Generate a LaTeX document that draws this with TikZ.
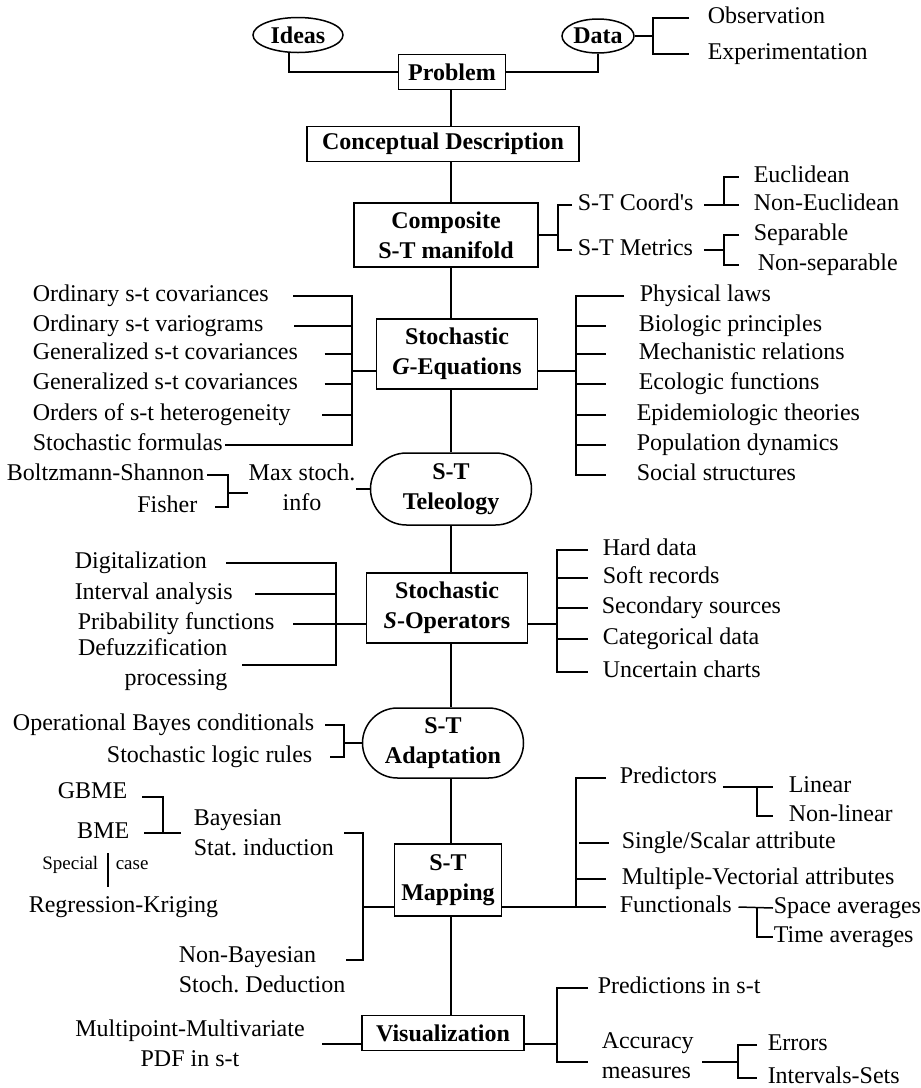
\documentclass[tikz,border=0pt]{standalone}
\usepackage{fontspec}
\setmainfont{Liberation Serif}
\usetikzlibrary{shapes.geometric,shapes.misc}
\tikzset{
  stbox/.style={draw, align=center, inner sep=0pt, font=\fontsize{24}{30}\selectfont\bfseries},
  stoval/.style={stbox, ellipse},
  stpill/.style={stbox, rounded rectangle},
  leaf/.style={anchor=west, inner sep=0pt, text height=17pt, text depth=6pt, font=\fontsize{24}{30}\selectfont},
  rleaf/.style={leaf, anchor=east},
  multi/.style={inner sep=0pt, font=\fontsize{24}{30}\selectfont},
}

\begin{document}
\begin{tikzpicture}[x=1pt, y=-1pt, line width=1.5pt]
\useasboundingbox (0,0) rectangle (921,1088);

% Main chain
\node[stbox, minimum width=107pt, minimum height=35pt] (prob) at (452,72) {Problem};
\node[stbox, minimum width=272pt, minimum height=35pt] (concept) at (443,144) {Conceptual Description};
\node[stbox, minimum width=184pt, minimum height=64pt] (manif) at (446,235) {Composite\\S-T manifold};
\node[stbox, minimum width=161pt, minimum height=70pt] (geq) at (457,354) {Stochastic\\\textit{G}-Equations};
\node[stpill, minimum width=161pt, minimum height=72pt] (telos) at (451,489) {S-T\\Teleology};
\node[stbox, minimum width=161pt, minimum height=70pt] (sop) at (447,608) {Stochastic\\\textit{S}-Operators};
\node[stpill, minimum width=161pt, minimum height=70pt] (adapt) at (443,743) {S-T\\Adaptation};
\node[stbox, minimum width=107pt, minimum height=72pt] (mapping) at (448,880) {S-T\\Mapping};
\node[stbox, minimum width=162pt, minimum height=35pt] (visual) at (443,1033) {Visualization};

\coordinate (spine) at (451,0);
\draw (prob.south -| spine) -- (concept.north -| spine);
\draw (concept.south -| spine) -- (manif.north -| spine);
\draw (manif.south -| spine) -- (geq.north -| spine);
\draw (geq.south -| spine) -- (telos.north -| spine);
\draw (telos.south -| spine) -- (sop.north -| spine);
\draw (sop.south -| spine) -- (adapt.north -| spine);
\draw (adapt.south -| spine) -- (mapping.north -| spine);
\draw (mapping.south -| spine) -- (visual.north -| spine);

% Ideas and data
\node[stoval, minimum width=90pt, minimum height=35pt] (ideas) at (298,35) {Ideas};
\node[stoval, minimum width=72pt, minimum height=34pt] (data) at (598,36) {Data};
\node[leaf] (obs) at (707,18) {Observation};
\node[leaf] (exper) at (707,54) {Experimentation};
\coordinate (dbr) at (653,36);
\draw ([xshift=-9pt]ideas.south) |- (prob.west);
\draw (data.south) |- (prob.east);
\draw (data) -- (dbr);
\draw ([xshift=-18pt]obs.west) -| (dbr) |- ([xshift=-18pt]exper.west);

% Manifold branches
\node[leaf] (coord) at (577,205) {S-T Coord\textquotesingle s};
\node[leaf] (metr) at (577,250) {S-T Metrics};
\node[leaf] (eucl) at (753,177) {Euclidean};
\node[leaf] (noneu) at (753,205) {Non-Euclidean};
\node[leaf] (sep) at (753,235) {Separable};
\node[leaf] (nonsep) at (757,265) {Non-separable};
\coordinate (mbr) at (558,235);
\coordinate (cbr) at (724,205);
\coordinate (tbr) at (724,250);
\draw (manif) -- (mbr);
\draw ([xshift=-5pt]coord.west) -| (mbr) |- ([xshift=-5pt]metr.west);
\draw ([xshift=10pt]coord.east) -- ([xshift=-14pt]noneu.west);
\draw (cbr) |- ([xshift=-14pt]eucl.west);
\draw ([xshift=10pt]metr.east) -- (tbr);
\draw ([xshift=-14pt]sep.west) -| (tbr) |- ([xshift=-18pt]nonsep.west);

% G-Equations, left
\node[leaf] (ord1) at (32,296) {Ordinary s-t covariances};
\node[leaf] (ord2) at (32,326) {Ordinary s-t variograms};
\node[leaf] (gen1) at (32,354) {Generalized s-t covariances};
\node[leaf] (gen2) at (32,384) {Generalized s-t covariances};
\node[leaf] (orders) at (32,415) {Orders of s-t heterogeneity};
\node[leaf] (stochf) at (32,445) {Stochastic formulas};
\coordinate (gl) at (352,371);
\draw (gl -| geq.west) -- (gl);
\draw ([xshift=24pt]ord1.east) -| (gl) |- ([xshift=2pt]stochf.east);
\draw ([xshift=30pt]ord2.east) -- (ord2 -| gl);
\draw ([xshift=26pt]gen1.east) -- (gen1 -| gl);
\draw ([xshift=26pt]gen2.east) -- (gen2 -| gl);
\draw ([xshift=31pt]orders.east) -- (orders -| gl);

% G-Equations, right
\node[leaf] (phys) at (639,296) {Physical laws};
\node[leaf] (bio) at (638,326) {Biologic principles};
\node[leaf] (mech) at (638,354) {Mechanistic relations};
\node[leaf] (eco) at (638,384) {Ecologic functions};
\node[leaf] (epi) at (636,415) {Epidemiologic theories};
\node[leaf] (pop) at (636,445) {Population dynamics};
\node[leaf] (soc) at (636,475) {Social structures};
\coordinate (gr) at (576,371);
\draw (gr -| geq.east) -- (gr);
\draw ([xshift=-15pt]phys.west) -| (gr) |- ([xshift=-30pt]soc.west);
\draw (bio -| gr) -- ([xshift=-32pt]bio.west);
\draw (mech -| gr) -- ([xshift=-32pt]mech.west);
\draw (eco -| gr) -- ([xshift=-32pt]eco.west);
\draw (epi -| gr) -- ([xshift=-30pt]epi.west);
\draw (pop -| gr) -- ([xshift=-30pt]pop.west);

% Teleology
\node[multi, align=center] (maxinfo) at (302,487) {Max stoch.\\info};
\node[rleaf] (boltz) at (205,475) {Boltzmann-Shannon};
\node[rleaf] (fisher) at (198,507) {Fisher};
\coordinate (fbr) at (228,493);
\draw (telos) -- (telos -| maxinfo.east);
\draw ([xshift=2pt]boltz.east) -| (fbr) |- ([xshift=17pt]fisher.east);
\draw (fbr) -- (fbr -| maxinfo.west);

% S-Operators, left
\node[leaf] (digit) at (74,563) {Digitalization};
\node[leaf] (interv) at (74,594) {Interval analysis};
\node[leaf] (prib) at (77,624) {Pribability functions};
\node[multi, align=right, anchor=east] (defuzz) at (228,665) {Defuzzification\\processing};
\coordinate (sl) at (336,624);
\draw (sl -| sop.west) -- ([xshift=18pt]prib.east);
\draw ([xshift=19pt]digit.east) -| (sl) |- ([xshift=14pt]defuzz.east);
\draw ([xshift=22pt]interv.east) -- (interv -| sl);

% S-Operators, right
\node[leaf] (hard) at (602,550) {Hard data};
\node[leaf] (soft) at (602,578) {Soft records};
\node[leaf] (second) at (601,608) {Secondary sources};
\node[leaf] (categ) at (602,639) {Categorical data};
\node[leaf] (uncert) at (602,672) {Uncertain charts};
\coordinate (sr) at (557,624);
\draw (sr -| sop.east) -- (sr);
\draw ([xshift=-14pt]hard.west) -| (sr) |- ([xshift=-14pt]uncert.west);
\draw (soft -| sr) -- ([xshift=-14pt]soft.west);
\draw (second -| sr) -- ([xshift=-13pt]second.west);
\draw (categ -| sr) -- ([xshift=-14pt]categ.west);

% Adaptation
\node[rleaf] (opb) at (315,725) {Operational Bayes conditionals};
\node[rleaf] (slr) at (313,757) {Stochastic logic rules};
\coordinate (ab) at (344,743);
\draw (adapt) -- (ab);
\draw ([xshift=10pt]opb.east) -| (ab) |- ([xshift=17pt]slr.east);

% Mapping, left
\node[multi, align=left, anchor=west] (bayes) at (193,833) {Bayesian\\Stat.\ induction};
\node[multi, align=left, anchor=west] (nonbayes) at (178,970) {Non-Bayesian\\Stoch.\ Deduction};
\node[rleaf] (gbme) at (128,793) {GBME};
\node[rleaf] (bme) at (130,833) {BME};
\node[rleaf, font=\fontsize{19}{22}\selectfont] (special) at (99,864) {Special};
\node[leaf, font=\fontsize{19}{22}\selectfont] (case) at (115,864) {case};
\node[leaf] (regk) at (28,907) {Regression-Kriging};
\coordinate (mbl) at (363,907);
\coordinate (gb) at (163,833);
\coordinate (sc) at (108,0);
\draw (mbl -| mapping.west) -- (mbl);
\draw ([xshift=10pt]bayes.east) -| (mbl) |- ([yshift=10pt]nonbayes.east);
\draw ([xshift=14pt,yshift=-4pt]gbme.east) -| (gb);
\draw ([xshift=14pt]bme.east) -- ([xshift=-12pt]bayes.west);
\draw ([yshift=-8pt]bme.south -| sc) -- ([yshift=8pt]regk.north -| sc);

% Mapping, right
\node[leaf] (pred) at (619,778) {Predictors};
\node[leaf] (single) at (621,843) {Single/Scalar attribute};
\node[leaf] (multiv) at (621,879) {Multiple-Vectorial attributes};
\node[leaf] (func) at (619,907) {Functionals};
\node[leaf] (linear) at (788,787) {Linear};
\node[leaf] (nonlin) at (788,816) {Non-linear};
\node[leaf] (space) at (773,908) {Space averages};
\node[leaf] (time) at (773,937) {Time averages};
\coordinate (mr) at (576,907);
\coordinate (lb) at (757,787);
\coordinate (fb) at (757,908);
\draw (mr -| mapping.east) -- ([xshift=-13pt]func.west);
\draw ([xshift=-13pt]pred.west) -| (mr);
\draw ([xshift=3pt]single.west -| mr) -- ([xshift=-12pt]single.west);
\draw (multiv -| mr) -- ([xshift=-15pt]multiv.west);
\draw ([xshift=5pt,yshift=-9pt]pred.east) -- ([xshift=-15pt]linear.west);
\draw (lb) |- ([xshift=-15pt]nonlin.west);
\draw ([xshift=6pt]func.east) -- (space.west);
\draw (fb) |- (time.west);

% Visualization
\node[multi, align=center] (mp) at (190,1043) {Multipoint-Multivariate\\PDF in s-t};
\node[leaf] (predst) at (597,988) {Predictions in s-t};
\node[multi, align=left, anchor=west] (acc) at (601,1056) {Accuracy\\measures};
\node[leaf] (errors) at (767,1045) {Errors};
\node[leaf] (intervals) at (767,1078) {Intervals-Sets};
\coordinate (vr) at (557,1044);
\coordinate (eb) at (738,1062);
\draw (vr -| visual.west) ++(-0pt,0) -- ([xshift=17pt]mp.east |- vr);
\draw (vr -| visual.east) -- (vr);
\draw ([xshift=-9pt]predst.west) -| (vr) |- ([xshift=-13pt,yshift=-6pt]acc.west);
\draw ([xshift=8pt,yshift=-6pt]acc.east) -- (eb);
\draw ([xshift=-10pt]errors.west) -| (eb) |- ([xshift=-10pt]intervals.west);
\end{tikzpicture}
\end{document}
